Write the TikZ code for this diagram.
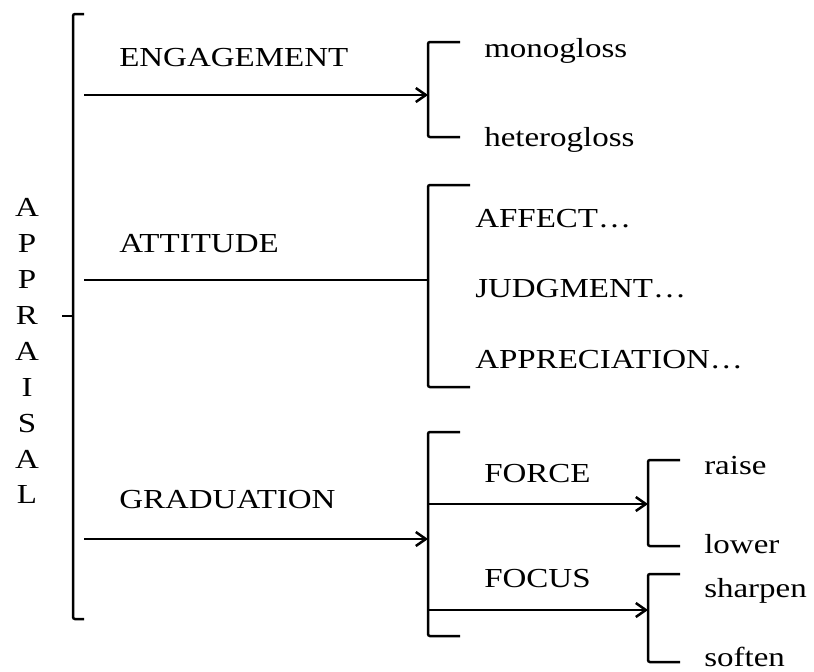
\documentclass[tikz,border=0pt]{standalone}
\usepackage{fontspec}
\setmainfont{Liberation Serif}[FakeStretch=1.2]
\usetikzlibrary{arrows.meta}

\begin{document}
\begin{tikzpicture}[x=1pt,y=-1pt,>={Straight Barb[length=10pt,width=14pt]},line width=2.5pt,
  word/.style={anchor=base west,inner sep=0pt,font=\fontsize{27.5}{30}\selectfont},
  letter/.style={anchor=base,inner sep=0pt,font=\fontsize{27.5}{30}\selectfont},
  brace/.style={rounded corners=2pt}]

\useasboundingbox (0,0) rectangle (814,672);

% APPRAISAL
\draw[brace] (84,14) -- (73,14) -- (73,619) -- (84,619);
\draw (62,316) -- (73,316);
\foreach \ch [count=\i from 0] in {A,P,P,R,A,I,S,A,L}
  \node[letter] (ap\i) at (27,{216.7+35.9*\i}) {\ch};

\node[word] (eng)  at (118,66)  {ENGAGEMENT};
\node[word] (att)  at (118,252) {ATTITUDE};
\node[word] (grad) at (118,508) {GRADUATION};

\coordinate (eng0)  at (84,95);  \coordinate (eng1)  at (428,95);
\coordinate (att0)  at (84,280); \coordinate (att1)  at (428,280);
\coordinate (grad0) at (84,539); \coordinate (grad1) at (428,539);

% ENGAGEMENT
\draw[brace] (460,42) -- (428,42) -- (428,137) -- (460,137);
\node[word] (mono)   at (483,57)  {monogloss};
\node[word] (hetero) at (483,146) {heterogloss};

% ATTITUDE
\draw[brace] (470,185) -- (428,185) -- (428,387) -- (470,387);
\node[word] (affect) at (474,227) {AFFECT…};
\node[word] (judg)   at (474,297) {JUDGMENT…};
\node[word] (appr)   at (474,368) {APPRECIATION…};

% GRADUATION
\draw[brace] (460,432) -- (428,432) -- (428,636) -- (460,636);
\node[word] (force) at (483,482) {FORCE};
\node[word] (focus) at (483,587) {FOCUS};

\coordinate (force0) at (428,504); \coordinate (force1) at (648,504);
\coordinate (focus0) at (428,610); \coordinate (focus1) at (648,610);

\draw[brace] (680,460) -- (648,460) -- (648,546) -- (680,546);
\node[word] (raise) at (703,474) {raise};
\node[word] (lower) at (703,553) {lower};

\draw[brace] (680,574) -- (648,574) -- (648,662) -- (680,662);
\node[word] (sharpen) at (703,597) {sharpen};
\node[word] (soften)  at (703,666) {soften};

\path[->] (eng0)   edge (eng1)
          (grad0)  edge (grad1)
          (force0) edge (force1)
          (focus0) edge (focus1);
\draw (att0) -- (att1);

\end{tikzpicture}
\end{document}
